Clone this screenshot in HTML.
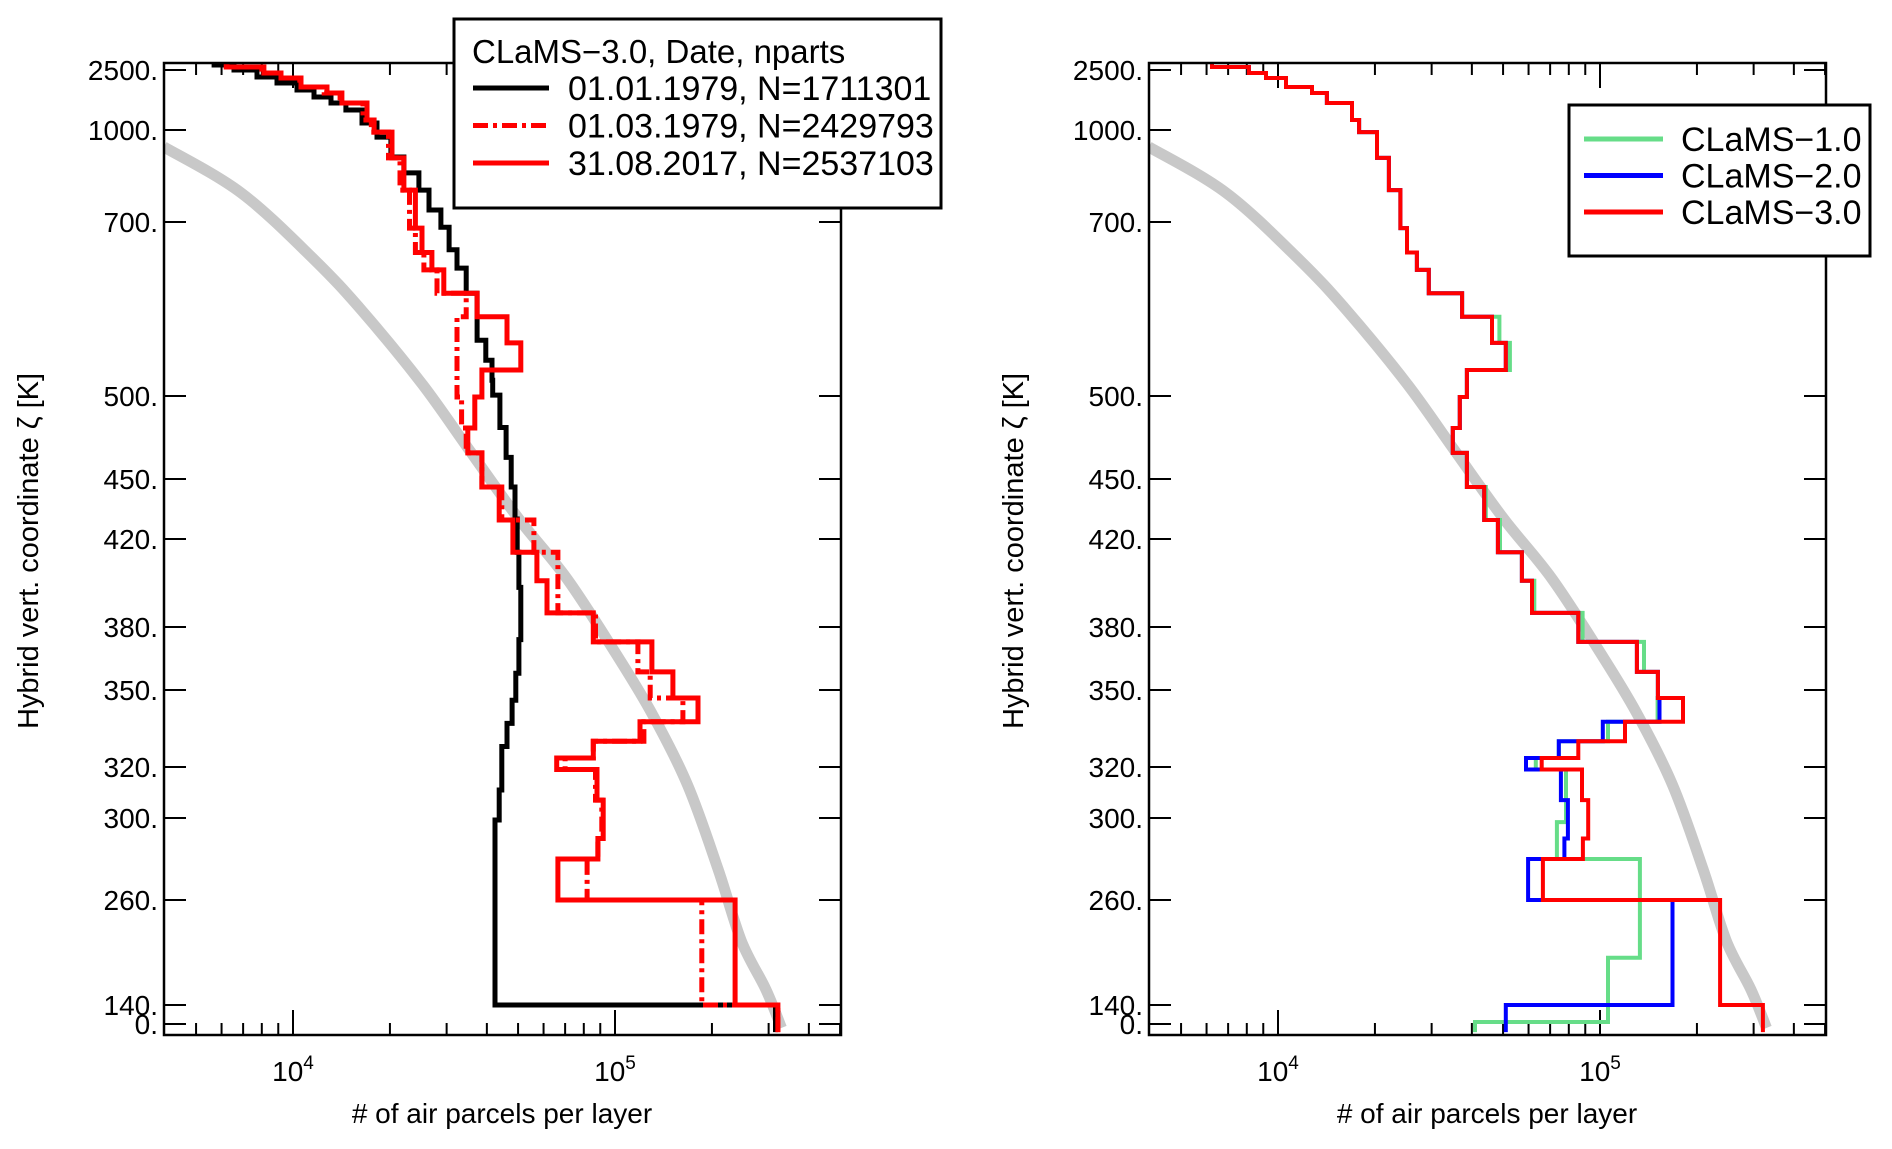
<!DOCTYPE html>
<html><head><meta charset="utf-8"><style>
html,body{margin:0;padding:0;background:#fff}
svg{display:block}
text{font-family:"Liberation Sans",Arial,sans-serif;fill:#000}
</style></head><body>
<svg id="fig" xmlns="http://www.w3.org/2000/svg" width="1892" height="1149" viewBox="0 0 1892 1149">
<defs>
<clipPath id="clipL"><rect x="164" y="63" width="677" height="972"/></clipPath>
<clipPath id="clipR"><rect x="1149" y="63" width="677" height="972"/></clipPath>
</defs>
<g id="panelL"></g>
<g id="panelR"></g>
</svg>
<script>
// ---- axis tick data ----
const yTickVals = [0,140,260,300,320,350,380,420,450,500,700,1000,2500];
const yTickLabels = ["0.","140.","260.","300.","320.","350.","380.","420.","450.","500.","700.","1000.","2500."];
const xMajorTicks = [1e4,1e5];
const xMinorTicks = [5000,6000,7000,8000,9000,20000,30000,40000,50000,60000,70000,80000,90000,200000,300000,400000,500000];

// ---- left panel series ----
const blackBounds = [-60,140,299,311,328,337,346,358,374,398,414,430,446,463,481,501,518,541,564,618,647,668,694,739,804,860,912,977,1175,1500,1675,1825,2000,2175,2325,2500,2625,2675];
const blackVals = [315000,42400,43700,44500,46200,47900,49200,50300,51000,50300,49700,48900,47600,45900,43900,41700,41500,39700,37300,34500,32300,30530,28800,26440,24600,22100,20140,18240,16380,14600,13120,11620,10290,8920,7730,6560,5690];
const redBounds = [-60,140,260,280,290,307,319,323.5,330,337.6,346.9,358.6,372.9,386.4,401,414,429.5,446,465.7,480.7,499.4,529.9,561,591,618,645,665,693,804,909,993,1250,1675,1925,2075,2300,2425,2575,2675];
const red2017Vals = [320600,236000,66500,88500,91900,87900,65900,85600,119600,181000,151300,130200,85600,61500,57200,48200,43700,38600,34900,36700,38600,51000,46200,37300,29400,27000,25150,24000,22100,20300,17860,16980,14190,12750,10590,9180,8120,6240];
const red1979Vals = [320600,186000,81900,88500,91000,87000,70000,85600,123000,162500,128600,117800,87000,66500,66500,56000,44500,38600,34500,33400,32300,32300,32300,34500,28000,25500,24000,23000,21500,19800,17500,16500,14000,12500,10500,9000,8000,6200];

// ---- right panel series ----
const blueVals = [51000,168000,59800,77500,79500,75600,58900,74500,102000,153000,151300,130200,85600,61500,57200,48200,43700,38600,34900,36700,38600,51000,46200,37300,29400,27000,25150,24000,22100,20300,17860,16980,14190,12750,10590,9180,8120,6240];
const greenBounds = [-60,15,194,280,298,319,323.5,330,337.6,346.9,358.6,372.9,386.4,401,414,429.5,446,465.7,480.7,499.4,529.9,561,591,618,645,665,693,804,909,993,1250,1675,1925,2075,2300,2425,2575,2675];
const greenVals = [40900,105900,133000,73500,78400,63200,74500,105900,151000,151300,137000,88300,62500,57200,48900,44200,38600,34900,36700,38600,52500,48700,37300,29400,27000,25150,24000,22100,20300,17860,16980,14190,12750,10590,9180,8120,6240];

// ---- background curve ----
const greyX = [3970,6900,11620,16380,25150,35700,50300,70900,100000,130000,168000,209000,247000,294000,329000];
const greyZ = [945,795,657,598,514,466,430,402,368,341,313,275,213,158,-29];

// ---- legends ----
const legendL = ["01.01.1979, N=1711301","01.03.1979, N=2429793","31.08.2017, N=2537103"];
const legendR = ["CLaMS\u22121.0","CLaMS\u22122.0","CLaMS\u22123.0"];

const NS = "http://www.w3.org/2000/svg";
const yTickPx = [1024,1005,900,818,767,690,627,539,479,396,222,130,70];
function yScale(z){
  const n = yTickVals.length;
  let i = 0;
  if (z <= yTickVals[0]) i = 0;
  else if (z >= yTickVals[n-1]) i = n-2;
  else { while (z > yTickVals[i+1]) i++; }
  const t = (z - yTickVals[i])/(yTickVals[i+1]-yTickVals[i]);
  return yTickPx[i] + t*(yTickPx[i+1]-yTickPx[i]);
}
function makeX(x0){ return v => x0 + 322*(Math.log10(v)-4); }

function el(tag, attrs, parent){
  const e = document.createElementNS(NS, tag);
  for (const k in attrs) e.setAttribute(k, attrs[k]);
  parent.appendChild(e); return e;
}
function stepPath(bounds, vals, xs){
  let d = "M" + xs(vals[0]).toFixed(1) + "," + yScale(bounds[0]).toFixed(1);
  for (let i=0;i<vals.length;i++){
    d += " L" + xs(vals[i]).toFixed(1) + "," + yScale(bounds[i+1]).toFixed(1);
    if (i+1 < vals.length) d += " L" + xs(vals[i+1]).toFixed(1) + "," + yScale(bounds[i+1]).toFixed(1);
  }
  return d;
}
function smoothPath(pts){
  let d = "M" + pts[0][0].toFixed(1) + "," + pts[0][1].toFixed(1);
  for (let i=0;i<pts.length-1;i++){
    const p0 = pts[Math.max(0,i-1)], p1 = pts[i], p2 = pts[i+1], p3 = pts[Math.min(pts.length-1,i+2)];
    const c1 = [p1[0]+(p2[0]-p0[0])/6, p1[1]+(p2[1]-p0[1])/6];
    const c2 = [p2[0]-(p3[0]-p1[0])/6, p2[1]-(p3[1]-p1[1])/6];
    d += " C"+c1[0].toFixed(1)+","+c1[1].toFixed(1)+" "+c2[0].toFixed(1)+","+c2[1].toFixed(1)+" "+p2[0].toFixed(1)+","+p2[1].toFixed(1);
  }
  return d;
}

function buildPanel(g, left, clipId, ylabX){
  const right = left + 677, top = 63, bottom = 1035;
  const xs = makeX(left + 129);
  const pts = greyX.map((v,i)=>[xs(v), yScale(greyZ[i])]);
  const gc = el("path",{d:smoothPath(pts),fill:"none",stroke:"#c8c8c8","stroke-width":11,"stroke-linejoin":"round","clip-path":"url(#"+clipId+")"},g);
  
  
  for (let i=0;i<yTickVals.length;i++){
    const y = yScale(yTickVals[i]);
    const t1 = el("line",{x1:left,x2:left+22,y1:y,y2:y,stroke:"#000","stroke-width":2},g);
    
    
    const t2 = el("line",{x1:right-22,x2:right,y1:y,y2:y,stroke:"#000","stroke-width":2},g);
    
    
    const lb = el("text",{x:left-6,y:y+10,"font-size":28,"text-anchor":"end"},g);
    lb.textContent = yTickLabels[i];
    
    
  }
  xMajorTicks.forEach((v,i)=>{
    const x = xs(v);
    const a = el("line",{x1:x,x2:x,y1:bottom,y2:bottom-25,stroke:"#000","stroke-width":2},g);
    
    
    const b = el("line",{x1:x,x2:x,y1:top,y2:top+25,stroke:"#000","stroke-width":2},g);
    
    
    const tl = el("text",{x:x,y:1081,"font-size":28,"text-anchor":"middle"},g);
    
    
    tl.textContent = "10";
    const sp = el("tspan",{dy:-12,"font-size":19},tl);
    sp.textContent = String(Math.round(Math.log10(v)));
  });
  xMinorTicks.forEach(v=>{
    const x = xs(v);
    const a = el("line",{x1:x,x2:x,y1:bottom,y2:bottom-12,stroke:"#000","stroke-width":2},g);
    
    
    const b = el("line",{x1:x,x2:x,y1:top,y2:top+12,stroke:"#000","stroke-width":2},g);
    
    
  });
  const xl = el("text",{x:left+338,y:1123,"font-size":28,"text-anchor":"middle"},g);
  xl.textContent = "# of air parcels per layer";
  
  
  const yl = el("text",{x:0,y:0,"font-size":29,"text-anchor":"middle",transform:"translate("+ylabX+",551) rotate(-90)"},g);
  yl.textContent = "Hybrid vert. coordinate \u03B6 [K]";
  
  
  return {xs:xs, left:left, right:right, top:top, bottom:bottom};
}
function frame(g, P){
  const f = el("rect",{x:P.left,y:P.top,width:P.right-P.left,height:P.bottom-P.top,fill:"none",stroke:"#000","stroke-width":2.5},g);
  
  
}
function series(g, bounds, vals, xs, color, w, dash, clipId, name){
  const attrs = {d:stepPath(bounds, vals, xs),fill:"none",stroke:color,"stroke-width":w,"stroke-linejoin":"miter","clip-path":"url(#"+clipId+")"};
  if (dash) attrs["stroke-dasharray"] = dash;
  const p = el("path",attrs,g);
  
  
}

// LEFT
const gL = document.getElementById("panelL");
const PL = buildPanel(gL, 164, "clipL", 38);
series(gL, blackBounds, blackVals, PL.xs, "#000", 5, null, "clipL", "series-1979-01");
series(gL, redBounds, red1979Vals, PL.xs, "#ff0000", 5, "15,5,4,5", "clipL", "series-1979-03");
series(gL, redBounds, red2017Vals, PL.xs, "#ff0000", 5, null, "clipL", "series-2017-08");
frame(gL, PL);
const lgL = el("g",{},gL);


el("rect",{x:454,y:19,width:487,height:189,fill:"#fff",stroke:"#000","stroke-width":3},lgL);
const ttl = el("text",{x:472,y:63,"font-size":33},lgL);
ttl.textContent = "CLaMS\u22123.0, Date, nparts";


const lStyles = [["#000",null],["#ff0000","15,5,4,5"],["#ff0000",null]];
legendL.forEach((s,i)=>{
  const y = 88 + i*37.5;
  const a = {x1:473,x2:549,y1:y,y2:y,stroke:lStyles[i][0],"stroke-width":5};
  if (lStyles[i][1]) a["stroke-dasharray"] = lStyles[i][1];
  const ln = el("line",a,lgL);
  
  
  const t = el("text",{x:568,y:y+12,"font-size":34},lgL);
  t.textContent = s;
  
  
});

// RIGHT
const gR = document.getElementById("panelR");
const PR = buildPanel(gR, 1149, "clipR", 1023);
series(gR, greenBounds, greenVals, PR.xs, "#66dd88", 4, null, "clipR", "series-clams-1");
series(gR, redBounds, blueVals, PR.xs, "#0000ff", 4, null, "clipR", "series-clams-2");
series(gR, redBounds, red2017Vals, PR.xs, "#ff0000", 4, null, "clipR", "series-clams-3");
frame(gR, PR);
const lgR = el("g",{},gR);


el("rect",{x:1569,y:105,width:301,height:151,fill:"#fff",stroke:"#000","stroke-width":3},lgR);
const rCols = ["#66dd88","#0000ff","#ff0000"];
legendR.forEach((s,i)=>{
  const y = 139 + i*36.5;
  const ln = el("line",{x1:1584,x2:1663,y1:y,y2:y,stroke:rCols[i],"stroke-width":5},lgR);
  
  
  const t = el("text",{x:1681,y:y+12,"font-size":34},lgR);
  t.textContent = s;
  
  
});
</script>
</body></html>
